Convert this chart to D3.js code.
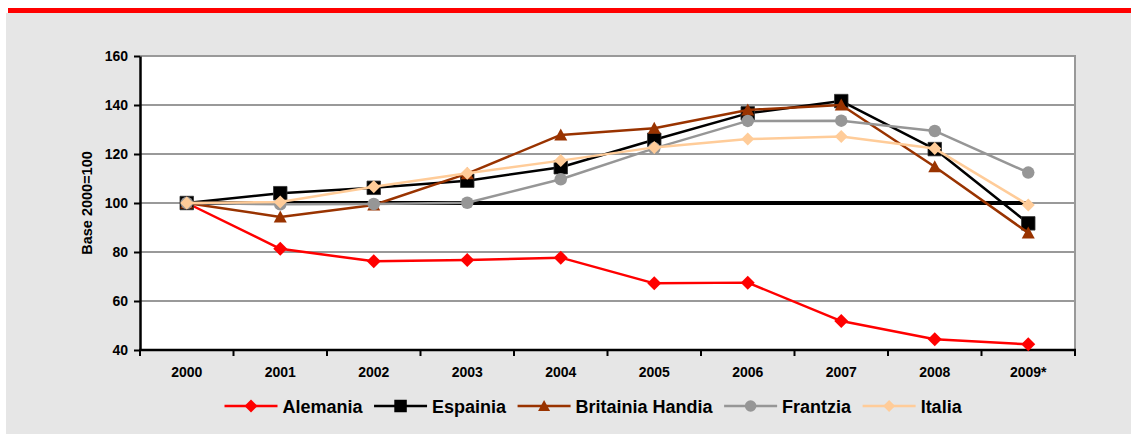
<!DOCTYPE html>
<html>
<head>
<meta charset="utf-8">
<script src="https://cdn.jsdelivr.net/npm/d3@7"></script>
<style>
  html, body { margin: 0; padding: 0; background: #ffffff; }
  svg { display: block; font-family: Arial, "Liberation Sans", sans-serif; }
</style>
</head>
<body>
<svg id="chart" width="1131" height="434"></svg>
<script>
// Index values, base 2000 = 100
const years = ["2000", "2001", "2002", "2003", "2004", "2005", "2006", "2007", "2008", "2009*"];
const alemania  = [100, 81.3, 76.2, 76.7, 77.7, 67.2, 67.5, 51.8, 44.4, 42.3];
const espainia  = [100, 104.0, 106.2, 109.1, 114.6, 125.8, 136.6, 141.6, 122.0, 91.7];
const britainia = [100, 94.3, 99.2, 112.0, 127.8, 130.5, 138.0, 140.0, 114.8, 87.8];
const frantzia  = [100, 99.5, 99.6, 100.1, 109.7, 122.3, 133.5, 133.6, 129.4, 112.4];
const italia    = [100, 100.4, 106.6, 112.1, 117.3, 122.7, 126.1, 127.1, 122.2, 99.2];
const baseLine  = [100, 100, 100, 100, 100, 100, 100, 100, 100, 100];
const yTicks = [40, 60, 80, 100, 120, 140, 160];
const seriesNames = ["Alemania", "Espainia", "Britainia Handia", "Frantzia", "Italia"];
const yTitle = "Base 2000=100";

const series = [
  { name: seriesNames[0], values: alemania,  color: "#ff0000", marker: "diamond",  size: 14 },
  { name: seriesNames[1], values: espainia,  color: "#000000", marker: "square",   size: 13.5 },
  { name: seriesNames[2], values: britainia, color: "#993300", marker: "triangle", size: 13 },
  { name: seriesNames[3], values: frantzia,  color: "#969696", marker: "circle",   size: 12.5 },
  { name: seriesNames[4], values: italia,    color: "#ffcc99", marker: "diamond",  size: 13 }
];

const svg = d3.select("#chart");
const W = 1131, H = 434;
const plot = { left: 140, right: 1075, top: 56, bottom: 350 };

// page background and top accent bar
svg.append("rect").attr("x", 6).attr("y", 13).attr("width", W - 6).attr("height", H - 13).attr("fill", "#e6e6e6");
svg.append("rect").attr("x", 8).attr("y", 8).attr("width", W - 8).attr("height", 5).attr("fill", "#ff0000");

const x = d3.scaleBand().domain(years).range([plot.left, plot.right]).padding(0);
const cx = d => x(d) + x.bandwidth() / 2;
const y = d3.scaleLinear().domain([40, 160]).range([plot.bottom, plot.top]);

// plot area
svg.append("rect")
  .attr("x", plot.left).attr("y", plot.top)
  .attr("width", plot.right - plot.left).attr("height", plot.bottom - plot.top)
  .attr("fill", "#ffffff");

// horizontal gridlines
svg.append("g").selectAll("line")
  .data(yTicks.filter(t => t > 40))
  .join("line")
  .attr("x1", plot.left).attr("x2", plot.right)
  .attr("y1", d => y(d)).attr("y2", d => y(d))
  .attr("stroke", "#999999").attr("stroke-width", 2);

// right border of plot area
svg.append("line")
  .attr("x1", plot.right).attr("x2", plot.right)
  .attr("y1", plot.top - 1).attr("y2", plot.bottom)
  .attr("stroke", "#999999").attr("stroke-width", 2);

// y axis
const yAxis = svg.append("g")
  .attr("transform", `translate(${plot.left},0)`)
  .call(d3.axisLeft(y).tickValues(yTicks).tickSize(6).tickPadding(6).tickSizeOuter(0));
yAxis.select(".domain").attr("stroke", "#000").attr("stroke-width", 2.5);
yAxis.selectAll(".tick line").attr("stroke", "#000").attr("stroke-width", 2);
yAxis.selectAll(".tick text")
  .attr("font-size", 14).attr("font-weight", "bold").attr("fill", "#000")
  .attr("font-family", "Arial, 'Liberation Sans', sans-serif");

// x axis: labels centred in each category, ticks on the category boundaries
const xAxis = svg.append("g")
  .attr("transform", `translate(0,${plot.bottom})`)
  .call(d3.axisBottom(x).tickSize(0).tickPadding(17).tickSizeOuter(0));
xAxis.select(".domain").remove();
xAxis.selectAll(".tick text")
  .attr("font-size", 14).attr("font-weight", "bold").attr("fill", "#000")
  .attr("font-family", "Arial, 'Liberation Sans', sans-serif");
const bounds = years.map(d => x(d)).concat([plot.right]);
svg.append("g").selectAll("line")
  .data(bounds)
  .join("line")
  .attr("x1", d => d).attr("x2", d => d)
  .attr("y1", plot.bottom).attr("y2", plot.bottom + 6)
  .attr("stroke", "#000").attr("stroke-width", 2);
svg.append("line")
  .attr("x1", plot.left - 1).attr("x2", plot.right + 1)
  .attr("y1", plot.bottom).attr("y2", plot.bottom)
  .attr("stroke", "#000").attr("stroke-width", 2.5);

// y axis title
svg.append("text")
  .attr("transform", `translate(92,${(plot.top + plot.bottom) / 2}) rotate(-90)`)
  .attr("text-anchor", "middle")
  .attr("font-size", 14.5).attr("font-weight", "bold").attr("fill", "#000")
  .text(yTitle);

// marker shapes
function markerPath(type, size) {
  const h = size / 2;
  switch (type) {
    case "diamond":  return `M0,${-h}L${h},0L0,${h}L${-h},0Z`;
    case "square":   return `M${-h},${-h}H${h}V${h}H${-h}Z`;
    case "triangle": return `M0,${-h}L${h},${h * 0.85}L${-h},${h * 0.85}Z`;
    default:         return d3.symbol(d3.symbolCircle, Math.PI * h * h)();
  }
}

const line = d3.line().x((d, i) => cx(years[i])).y(d => y(d));

// reference line at base 100
svg.append("path")
  .attr("d", line(baseLine))
  .attr("fill", "none").attr("stroke", "#000").attr("stroke-width", 4);

// series lines and markers
series.forEach(s => {
  const g = svg.append("g");
  g.append("path")
    .attr("d", line(s.values))
    .attr("fill", "none").attr("stroke", s.color).attr("stroke-width", 2.5)
    .attr("stroke-linejoin", "round");
  g.selectAll("path.m")
    .data(s.values)
    .join("path")
    .attr("class", "m")
    .attr("transform", (d, i) => `translate(${cx(years[i])},${y(d)})`)
    .attr("d", markerPath(s.marker, s.size))
    .attr("fill", s.color)
    .attr("stroke", s.marker === "square" ? "#333" : "none")
    .attr("stroke-width", 0.8);
});

// legend
const legend = svg.append("g");
const legY = 406;
let lx = 224.5;
series.forEach(s => {
  const g = legend.append("g");
  g.append("line")
    .attr("x1", lx).attr("x2", lx + 53)
    .attr("y1", legY).attr("y2", legY)
    .attr("stroke", s.color).attr("stroke-width", 2.5);
  g.append("path")
    .attr("transform", `translate(${lx + 26.5},${legY})`)
    .attr("d", markerPath(s.marker, s.size - 1))
    .attr("fill", s.color);
  const tx = lx + 58;
  const t = g.append("text")
    .attr("x", tx).attr("y", legY + 6.5)
    .attr("font-size", 18).attr("font-weight", "bold").attr("fill", "#000")
    .text(s.name);
  const w = t.node().getComputedTextLength();
  lx = tx + w + 11.5;
});
</script>
</body>
</html>
